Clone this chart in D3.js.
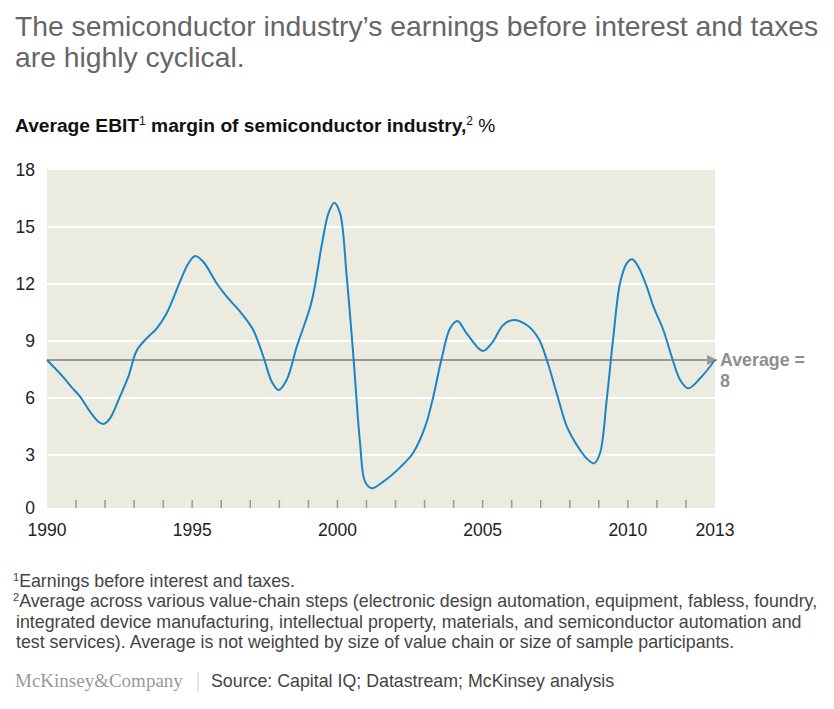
<!DOCTYPE html>
<html>
<head>
<meta charset="utf-8">
<script src="https://cdn.jsdelivr.net/npm/d3@7"></script>
<style>
  body { margin: 0; background: #fff; }
  svg { display: block; font-family: "Liberation Sans", Arial, Helvetica, sans-serif; }
</style>
</head>
<body>
<svg id="chart" width="834" height="709"></svg>
<script>
// EBIT margin (year as decimal, % value)
const years = [1990.0, 1990.56, 1990.85, 1991.14, 1991.48, 1991.77, 1991.94, 1992.17, 1992.51, 1992.80,
  1993.09, 1993.43, 1993.78, 1994.12, 1994.58, 1994.87, 1995.10, 1995.38, 1995.84, 1996.19,
  1996.65, 1997.10, 1997.45, 1997.74, 1997.97, 1998.25, 1998.60, 1999.11, 1999.46, 1999.69,
  1999.89, 2000.09, 2000.32, 2000.55, 2000.78, 2000.95, 2001.18, 2001.58, 2002.16, 2002.61,
  2003.02, 2003.30, 2003.59, 2003.88, 2004.13, 2004.45, 2005.00, 2005.31, 2005.71, 2006.06,
  2006.52, 2006.92, 2007.21, 2007.55, 2007.90, 2008.24, 2008.58, 2008.84, 2009.04, 2009.27,
  2009.50, 2009.73, 2009.96, 2010.15, 2010.36, 2010.65, 2010.88, 2011.22, 2011.51, 2011.80,
  2012.08, 2012.49, 2013.0];
const margins = [8.0, 7.1, 6.56, 6.07, 5.28, 4.75, 4.63, 4.93, 6.07, 7.12,
  8.5, 9.14, 9.67, 10.46, 12.12, 13.09, 13.47, 13.17, 12.04, 11.33,
  10.54, 9.58, 8.17, 6.86, 6.42, 6.95, 8.7, 11.07, 14.05, 15.72,
  16.28, 15.72, 12.38, 8.17, 3.61, 1.6, 1.25, 1.6, 2.35, 3.12,
  4.49, 6.07, 8.09, 9.67, 10.05, 9.4, 8.47, 8.88, 9.84, 10.11,
  9.84, 9.14, 8.0, 6.25, 4.49, 3.53, 2.82, 2.56, 3.09, 5.89,
  9.23, 12.04, 13.09, 13.3, 12.91, 11.86, 10.81, 9.58, 8.17, 6.95,
  6.51, 7.04, 8.0];
const average = 8;
const yTicks = [0, 3, 6, 9, 12, 15, 18];
const xLabels = [1990, 1995, 2000, 2005, 2010, 2013];
const minorYears = d3.range(1991, 2013);

const titleLines = ["The semiconductor industry\u2019s earnings before interest and taxes", "are highly cyclical."];
const footnotes = [
  ["1", "Earnings before interest and taxes."],
  ["2", "Average across various value-chain steps (electronic design automation, equipment, fabless, foundry,"],
  ["", "integrated device manufacturing, intellectual property, materials, and semiconductor automation and"],
  ["", "test services). Average is not weighted by size of value chain or size of sample participants."]
];

const svg = d3.select("#chart");
const x = d3.scaleLinear().domain([1990, 2013]).range([47, 715]);
const y = d3.scaleLinear().domain([0, 18]).range([512, 170]);
const plotBottom = 508;

// title
svg.append("g").selectAll("text").data(titleLines).join("text")
  .attr("x", 15).attr("y", (d, i) => 36 + i * 31)
  .attr("fill", "#666").attr("font-size", 28.3).text(d => d);

// subtitle
const sub = svg.append("text").attr("x", 15).attr("y", 132).attr("font-size", 19.2).attr("fill", "#111");
sub.append("tspan").attr("font-weight", "bold").text("Average EBIT");
sub.append("tspan").attr("font-size", 12).attr("dy", -7).text("1");
sub.append("tspan").attr("font-weight", "bold").attr("dy", 7).text(" margin of semiconductor industry,");
sub.append("tspan").attr("font-size", 12).attr("dy", -7).text("2");
sub.append("tspan").attr("dy", 7).text(" %");

// plot background
svg.append("rect").attr("x", x(1990)).attr("y", y(18))
  .attr("width", x(2013) - x(1990)).attr("height", plotBottom - y(18))
  .attr("fill", "#ecebe0");

// gridlines
svg.append("g").selectAll("line").data(yTicks.filter(d => d > 0 && d < 18)).join("line")
  .attr("x1", x(1990)).attr("x2", x(2013))
  .attr("y1", d => y(d)).attr("y2", d => y(d))
  .attr("stroke", "#fff").attr("stroke-width", 2);

// minor year ticks at the bottom of the plot
svg.append("g").selectAll("line").data(minorYears).join("line")
  .attr("x1", d => x(d)).attr("x2", d => x(d))
  .attr("y1", plotBottom - 8).attr("y2", plotBottom)
  .attr("stroke", "#999").attr("stroke-width", 1.5);

// y labels
svg.append("g").selectAll("text").data(yTicks).join("text")
  .attr("x", 35).attr("y", d => d === 0 ? plotBottom : y(d))
  .attr("dy", "0.35em").attr("text-anchor", "end")
  .attr("font-size", 17.5).attr("fill", "#222").text(d => d);

// x labels
svg.append("g").selectAll("text").data(xLabels).join("text")
  .attr("x", d => x(d)).attr("y", 536).attr("text-anchor", "middle")
  .attr("font-size", 17.5).attr("fill", "#222").text(d => d);

// average line with arrow
svg.append("defs").append("marker").attr("id", "arrow")
  .attr("viewBox", "0 0 10 10").attr("refX", 10).attr("refY", 5)
  .attr("markerWidth", 5).attr("markerHeight", 5).attr("orient", "auto")
  .attr("markerUnits", "strokeWidth")
  .append("path").attr("d", "M0,0L10,5L0,10Z").attr("fill", "#999");
svg.append("line")
  .attr("x1", x(1990)).attr("x2", x(2013) + 2)
  .attr("y1", y(average)).attr("y2", y(average))
  .attr("stroke", "#999").attr("stroke-width", 2).attr("marker-end", "url(#arrow)");

// EBIT curve
const line = d3.line().x((d, i) => x(years[i])).y(d => y(d)).curve(d3.curveCatmullRom.alpha(0.5));
svg.append("path").datum(margins).attr("d", line)
  .attr("fill", "none").attr("stroke", "#1985c7").attr("stroke-width", 2);

// average label
const avg = svg.append("text").attr("x", 720).attr("y", y(average) + 6)
  .attr("font-size", 17.8).attr("font-weight", "bold").attr("fill", "#8e8e8e");
avg.append("tspan").text("Average =");
avg.append("tspan").attr("x", 720).attr("dy", 21).text(average);

// footnotes
const fn = svg.append("g").selectAll("text").data(footnotes).join("text")
  .attr("x", d => d[0] ? 13 : 16).attr("y", (d, i) => 587 + i * 20.3)
  .attr("font-size", 17.8).attr("fill", "#444");
fn.append("tspan").attr("font-size", 11).attr("dy", -6).text(d => d[0]);
fn.append("tspan").attr("dy", d => d[0] ? 6 : 0).text(d => d[1]);

// footer
svg.append("text").attr("x", 15).attr("y", 687)
  .attr("font-family", "'Liberation Serif', 'DejaVu Serif', serif")
  .attr("font-size", 19).attr("fill", "#999").text("McKinsey&Company");
svg.append("line").attr("x1", 198).attr("x2", 198).attr("y1", 672).attr("y2", 692)
  .attr("stroke", "#ccc").attr("stroke-width", 1);
svg.append("text").attr("x", 211).attr("y", 687)
  .attr("font-size", 17.8).attr("fill", "#444")
  .text("Source: Capital IQ; Datastream; McKinsey analysis");
</script>
</body>
</html>
